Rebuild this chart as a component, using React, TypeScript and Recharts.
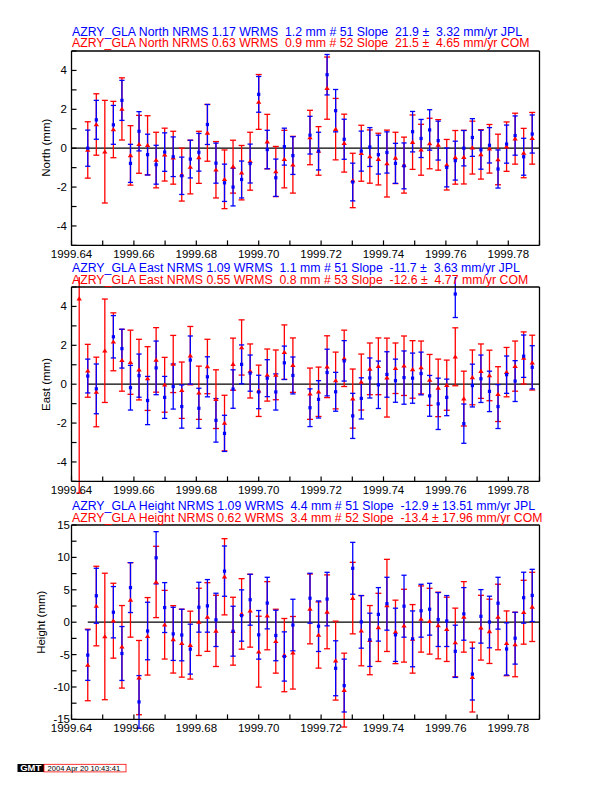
import React from 'react'
import { ComposedChart, Scatter, ErrorBar, XAxis, YAxis, ReferenceLine } from 'recharts'

// daily epochs (decimal year), day 235 .. 288 of 1999
const EPOCHS = [
  1999.64247, 1999.64521, 1999.64795, 1999.65068, 1999.65342, 1999.65616, 1999.6589, 1999.66164,
  1999.66438, 1999.66712, 1999.66986, 1999.6726, 1999.67534, 1999.67808, 1999.68082, 1999.68356,
  1999.6863, 1999.68904, 1999.69178, 1999.69452, 1999.69726, 1999.7, 1999.70274, 1999.70548,
  1999.70822, 1999.71096, 1999.7137, 1999.71644, 1999.71918, 1999.72192, 1999.72466, 1999.7274,
  1999.73014, 1999.73288, 1999.73562, 1999.73836, 1999.7411, 1999.74384, 1999.74658, 1999.74932,
  1999.75205, 1999.75479, 1999.75753, 1999.76027, 1999.76301, 1999.76575, 1999.76849, 1999.77123,
  1999.77397, 1999.77671, 1999.77945, 1999.78219, 1999.78493, 1999.78767,
]

const X_TICKS = [
  1999.64, 1999.65, 1999.66, 1999.67, 1999.68, 1999.69, 1999.7, 1999.71,
  1999.72, 1999.73, 1999.74, 1999.75, 1999.76, 1999.77, 1999.78, 1999.79,
]
const NE_TICKS = [-5, -4, -3, -2, -1, 0, 1, 2, 3, 4, 5]
const UP_TICKS = [-15, -12.5, -10, -7.5, -5, -2.5, 0, 2.5, 5, 7.5, 10, 12.5, 15]

// North
const NORTH_JPL = [
  null, 0.0, 1.46, null, 1.2, 2.46, -0.78, 0.87, -0.33, -0.85, -0.2, -0.44, -1.42, -0.56, -0.21, 1.22,
  -0.77, -1.78, -2.0, -1.61, -0.79, 2.77, -0.07, -1.52, 0.08, -0.38, null, 0.67, -0.15, 3.78, 1.93, 0.46,
  -1.74, -0.15, 0.06, -0.33, -0.22, -0.78, -0.91, 0.85, 0.5, 0.94, 0.39, -0.99, -0.64, 0.0, 0.55, -0.08,
  0.15, -1.07, 0.21, 0.65, -0.44, 0.73,
]
const NORTH_JPL_ERR = [
  null, 0.93, 1.0, null, 1.0, 1.03, 0.98, 1.01, 1.05, 1.0, 0.99, 1.02, 0.96, 0.97, 0.97, 1.03,
  1.03, 0.96, 0.97, 0.95, 1.0, 0.92, 0.99, 0.96, 0.95, 0.97, null, 0.97, 0.97, 1.04, 1.09, 1.03,
  0.97, 1.03, 1.0, 1.0, 1.06, 1.03, 1.18, 1.04, 0.98, 1.04, 1.0, 1.0, 1.0, 0.91, 0.97, 1.0,
  0.91, 0.98, 0.98, 1.01, 0.95, 0.98,
]
const NORTH_COM = [
  null, -0.09, 1.22, -0.18, 0.96, 2.02, -0.37, 0.2, 0.15, -0.61, -0.33, -0.49, -1.36, -0.97, -0.47, 0.79,
  -1.11, -1.6, -0.95, -1.26, -0.67, 2.38, 0.34, -1.2, -0.56, -0.85, null, 0.55, -0.14, 3.09, 0.98, 0.26,
  -1.66, -0.26, -0.43, -0.56, -0.79, -0.5, -0.87, 0.31, -0.08, 0.24, 0.17, -0.85, -0.47, -0.46, 0.03, -0.32,
  -0.03, -0.58, 0.08, 0.49, -0.25, 0.51,
]
const NORTH_COM_ERR = [
  null, 1.45, 1.58, 2.64, 1.45, 1.6, 1.53, 1.49, 1.52, 1.43, 1.36, 1.36, 1.36, 1.38, 1.34, 1.46,
  1.45, 1.51, 1.36, 1.4, 1.49, 1.41, 1.4, 1.29, 1.48, 1.46, null, 1.4, 1.25, 1.6, 1.58, 1.49,
  1.4, 1.44, 1.37, 1.33, 1.72, 1.32, 1.44, 1.4, 1.31, 1.3, 1.3, 1.3, 1.38, 1.38, 1.36, 1.27,
  1.25, 1.3, 1.27, 1.31, 1.27, 1.33,
]

// East
const EAST_JPL = [
  null, 0.42, -0.24, null, 2.44, 1.83, -0.18, 0.44, -0.84, 0.84, -0.68, -0.12, -1.15, 1.24, -1.24, 0.38,
  -1.86, -2.53, -0.25, 1.02, 0.57, -0.4, 0.31, -0.4, 1.1, 0.45, null, -1.21, -0.78, 0.6, -0.39, 1.2,
  -1.63, -0.73, 0.32, -0.03, 0.5, 0.18, 0.34, 0.31, 0.55, -0.6, -1.01, -0.68, 4.64, -2.03, -0.07, 0.28,
  -0.37, -1.15, 0.49, 0.16, 1.44, 0.87,
]
const EAST_JPL_ERR = [
  null, 0.87, 1.28, null, 1.09, 1.0, 1.15, 1.11, 1.24, 1.38, 1.08, 1.16, 1.11, 1.24, 1.03, 1.03,
  1.12, 0.93, 0.99, 1.0, 0.93, 0.86, 0.95, 0.93, 0.86, 0.95, null, 0.97, 0.96, 1.2, 1.0, 1.04,
  1.16, 1.06, 1.03, 1.22, 1.17, 1.11, 1.37, 1.29, 1.1, 1.05, 1.32, 0.94, 1.21, 1.01, 1.1, 1.22,
  1.04, 1.13, 0.96, 1.05, 1.09, 1.11,
]
const EAST_COM = [
  4.4, 0.69, -0.4, 1.72, 2.18, 1.23, 1.13, 0.75, 0.29, 1.25, -0.03, 1.04, -0.31, 1.47, -0.44, 0.91,
  -0.77, -2.0, 1.03, 1.89, 0.68, -0.34, 0.47, 0.48, 1.65, 0.98, null, -0.49, -0.39, 0.9, 0.19, 1.33,
  -0.74, 0.11, 0.79, 0.92, 0.34, 0.82, 0.95, 0.76, 0.86, 0.22, -0.19, -0.05, 1.41, -0.74, 0.35, 0.67,
  0.45, -0.51, 0.62, 0.93, 1.35, 1.11,
]
const EAST_COM_ERR = [
  10, 1.36, 1.79, 2.66, 1.49, 1.59, 1.65, 1.56, 1.64, 1.66, 1.41, 1.47, 1.45, 1.5, 1.37, 1.4,
  1.51, 1.43, 1.34, 1.42, 1.39, 1.32, 1.34, 1.28, 1.4, 1.4, null, 1.32, 1.27, 1.59, 1.46, 1.45,
  1.52, 1.44, 1.33, 1.46, 2.03, 1.3, 1.53, 1.48, 1.36, 1.31, 1.48, 1.29, 1.49, 1.41, 1.41, 1.4,
  1.3, 1.41, 1.27, 1.29, 1.34, 1.41,
]

// Height
const UP_JPL = [
  null, -5.08, 4.08, null, 1.54, -4.83, 5.34, -12.3, -1.36, 9.94, 2.26, -1.8, -1.98, -4.16, 2.31, 2.52,
  0.36, 7.88, -1.39, 1.03, 3.47, -1.95, 2.95, -2.05, -5.29, -0.44, null, 3.7, -0.62, 3.57, -7.11, -9.78,
  8.32, 0.05, -2.72, 1.21, 2.85, -1.95, 2.47, -2.57, 1.77, 2.0, 0.41, 0.18, -4.49, 1.28, -8.01, 0.9,
  0.03, 2.93, -4.13, -2.47, 3.78, 4.13,
]
const UP_JPL_ERR = [
  null, 3.9, 4.24, null, 3.96, 4.16, 3.85, 4.06, 4.44, 4.03, 3.85, 4.1, 3.98, 3.85, 3.85, 4.06,
  4.11, 3.88, 3.85, 3.96, 3.93, 3.75, 3.98, 3.9, 3.8, 3.98, null, 3.85, 3.9, 4.13, 4.24, 4.08,
  4.0, 4.06, 4.11, 4.13, 4.08, 4.11, 4.78, 4.31, 4.08, 4.0, 4.16, 3.93, 4.03, 4.06, 4.0, 4.13,
  3.98, 4.0, 4.03, 4.0, 3.93, 4.03,
]
const UP_COM = [
  null, -6.6, 2.49, -2.2, 0.23, -3.8, 3.44, -8.55, -2.18, 6.21, -0.39, -2.65, -3.24, -3.54, 0.05, 0.8,
  -1.34, 7.01, -1.39, 1.28, 1.77, -4.55, 1.0, -2.93, -5.08, -4.72, null, 2.05, -1.98, 1.6, -5.93, -10.48,
  3.72, -1.31, -2.77, -0.8, 2.59, -1.5, -0.54, -2.57, 0.49, 0.15, -0.51, -1.1, -3.13, 0.82, -8.47, -0.85,
  -1.41, 0.8, -3.26, -3.44, 1.54, 2.36,
]
const UP_COM_ERR = [
  null, 5.52, 6.14, 9.76, 5.78, 6.37, 5.75, 5.73, 5.98, 5.5, 5.3, 5.2, 5.24, 5.24, 5.19, 5.3,
  5.5, 5.88, 5.24, 5.44, 5.62, 5.47, 5.26, 4.93, 5.65, 5.6, null, 5.39, 5.11, 5.7, 6.09, 5.7,
  5.52, 5.42, 5.34, 5.26, 7.11, 4.9, 5.62, 5.29, 5.11, 5.08, 5.14, 4.96, 5.3, 5.44, 5.39, 5.0,
  4.96, 5.06, 5.0, 4.98, 4.93, 5.34,
]

const TITLES = [
  ['AZRY_GLA North NRMS 1.17 WRMS  1.2 mm # 51 Slope  21.9 \u00b1  3.32 mm/yr JPL',
    'AZRY_GLA North NRMS 0.63 WRMS  0.9 mm # 52 Slope  21.5 \u00b1  4.65 mm/yr COM'],
  ['AZRY_GLA East NRMS 1.09 WRMS  1.1 mm # 51 Slope  -11.7 \u00b1  3.63 mm/yr JPL',
    'AZRY_GLA East NRMS 0.55 WRMS  0.8 mm # 53 Slope  -12.6 \u00b1  4.77 mm/yr COM'],
  ['AZRY_GLA Height NRMS 1.09 WRMS  4.4 mm # 51 Slope  -12.9 \u00b1 13.51 mm/yr JPL',
    'AZRY_GLA Height NRMS 0.62 WRMS  3.4 mm # 52 Slope  -13.4 \u00b1 17.96 mm/yr COM'],
]

const BLUE = '#0000ff'
const RED = '#ff0000'
const FONT = '"Liberation Sans", Arial, Helvetica, sans-serif'
const X0 = 1999.64
const X1 = 1999.79
const LEFT = 71.5
const PLOT_W = 468
const PLOT_H = 194.4
const PAD_T = 10
const PAD_B = 22
const TICK = 5

function toPoints(vals: (number | null)[], errs: (number | null)[]) {
  const out: { t: number; v: number; e: number }[] = []
  vals.forEach((v, i) => {
    if (v !== null) out.push({ t: EPOCHS[i], v, e: errs[i] as number })
  })
  return out
}

const Square = (p: any) =>
  p.cx == null ? <g /> : <rect x={p.cx - 1.6} y={p.cy - 1.6} width={3.2} height={3.2} fill={BLUE} />

const Triangle = (p: any) =>
  p.cx == null ? (
    <g />
  ) : (
    <polygon
      points={`${p.cx - 2.7},${p.cy + 1.8} ${p.cx + 2.7},${p.cy + 1.8} ${p.cx},${p.cy - 2.3}`}
      fill={RED}
    />
  )

const BottomTick = (p: any) => {
  const v = p.payload.value
  const k = Math.round((v - X0) * 100)
  return (
    <g>
      <line x1={p.x} y1={p.y} x2={p.x} y2={p.y - TICK} stroke="#000" strokeWidth={1.2} />
      {k % 2 === 0 && (
        <text x={p.x} y={p.y + 12.5} textAnchor="middle" fontSize={11.5} fontFamily={FONT} fill="#000">
          {v.toFixed(2)}
        </text>
      )}
    </g>
  )
}

const TopTick = (p: any) => (
  <line x1={p.x} y1={p.y} x2={p.x} y2={p.y + TICK} stroke="#000" strokeWidth={1.2} />
)

const RightTick = (p: any) => (
  <line x1={p.x} y1={p.y} x2={p.x - TICK} y2={p.y} stroke="#000" strokeWidth={1.2} />
)

const makeLeftTick = (labelStep: number, gap: number) => (p: any) => {
  const v = p.payload.value
  const show = Math.abs(v % labelStep) < 1e-6 && (labelStep === 5 || Math.abs(v) < 5)
  return (
    <g>
      <line x1={p.x} y1={p.y} x2={p.x + TICK} y2={p.y} stroke="#000" strokeWidth={1.2} />
      {show && (
        <text
          x={p.x - gap}
          y={p.y + 4}
          textAnchor="end"
          fontSize={11.5}
          fontFamily={FONT}
          fill="#000"
        >
          {v}
        </text>
      )}
    </g>
  )
}

const PANELS = [
  {
    top: 50.5, label: 'North (mm)', labelX: 50, domain: [-5, 5], ticks: NE_TICKS, step: 2, gap: 4.5,
    zeroFrom: X0, jpl: toPoints(NORTH_JPL, NORTH_JPL_ERR), com: toPoints(NORTH_COM, NORTH_COM_ERR),
  },
  {
    top: 287.3, label: 'East (mm)', labelX: 50, domain: [-5, 5], ticks: NE_TICKS, step: 2, gap: 4.5,
    zeroFrom: EPOCHS[1], jpl: toPoints(EAST_JPL, EAST_JPL_ERR), com: toPoints(EAST_COM, EAST_COM_ERR),
  },
  {
    top: 525, label: 'Height (mm)', labelX: 45, domain: [-15, 15], ticks: UP_TICKS, step: 5, gap: 1.5,
    zeroFrom: EPOCHS[1], jpl: toPoints(UP_JPL, UP_JPL_ERR), com: toPoints(UP_COM, UP_COM_ERR),
  },
]

function Panel({ cfg }: { cfg: (typeof PANELS)[number] }) {
  const axisLine = { stroke: '#000', strokeWidth: 1.3 }
  return (
    <div style={{ position: 'absolute', left: 0, top: cfg.top - PAD_T }}>
      <ComposedChart
        width={612}
        height={PAD_T + PLOT_H + PAD_B}
        margin={{ top: 0, right: 0, bottom: 0, left: 0 }}
      >
        <XAxis
          type="number"
          dataKey="t"
          domain={[X0, X1]}
          ticks={X_TICKS}
          interval={0}
          allowDataOverflow
          height={PAD_B}
          tickSize={0}
          tickMargin={0}
          axisLine={axisLine}
          tickLine={false}
          tick={BottomTick}
        />
        <XAxis
          xAxisId="top"
          orientation="top"
          type="number"
          domain={[X0, X1]}
          ticks={X_TICKS}
          interval={0}
          height={PAD_T}
          tickSize={0}
          tickMargin={0}
          axisLine={axisLine}
          tickLine={false}
          tick={TopTick}
        />
        <YAxis
          type="number"
          dataKey="v"
          domain={cfg.domain}
          ticks={cfg.ticks}
          interval={0}
          allowDataOverflow
          width={LEFT}
          tickSize={0}
          tickMargin={0}
          axisLine={axisLine}
          tickLine={false}
          tick={makeLeftTick(cfg.step, cfg.gap)}
        />
        <YAxis
          yAxisId="right"
          orientation="right"
          type="number"
          domain={cfg.domain}
          ticks={cfg.ticks}
          interval={0}
          width={612 - LEFT - PLOT_W}
          tickSize={0}
          tickMargin={0}
          axisLine={axisLine}
          tickLine={false}
          tick={RightTick}
        />
        <ReferenceLine
          segment={[{ x: cfg.zeroFrom, y: 0 }, { x: X1, y: 0 }]}
          stroke="#000"
          strokeWidth={1.3}
        />
        <Scatter data={cfg.com} dataKey="v" shape={Triangle} isAnimationActive={false}>
          <ErrorBar dataKey="e" direction="y" width={3} stroke={RED} strokeWidth={1.3} isAnimationActive={false} />
        </Scatter>
        <Scatter data={cfg.jpl} dataKey="v" shape={Square} isAnimationActive={false}>
          <ErrorBar dataKey="e" direction="y" width={2.6} stroke={BLUE} strokeWidth={1.3} isAnimationActive={false} />
        </Scatter>
      </ComposedChart>
    </div>
  )
}

export default function App() {
  return (
    <div style={{ position: 'absolute', left: 0, top: 0, width: 612, height: 792, background: '#fff' }}>
      {PANELS.map((cfg, i) => (
        <Panel key={i} cfg={cfg} />
      ))}
      <svg
        width={612}
        height={792}
        style={{ position: 'absolute', left: 0, top: 0, pointerEvents: 'none' }}
        fontFamily={FONT}
      >
        {PANELS.map((cfg, i) => (
          <g key={i}>
            <text x={72} y={cfg.top - 15} fontSize={12.3} fill={BLUE} xmlSpace="preserve" style={{ whiteSpace: 'pre' }}>
              {TITLES[i][0]}
            </text>
            <text x={72} y={cfg.top - 3.5} fontSize={12.3} fill={RED} xmlSpace="preserve" style={{ whiteSpace: 'pre' }}>
              {TITLES[i][1]}
            </text>
            <text
              x={cfg.labelX}
              y={cfg.top + PLOT_H / 2}
              fontSize={11.5}
              textAnchor="middle"
              transform={`rotate(-90 ${cfg.labelX} ${cfg.top + PLOT_H / 2})`}
              fill="#000"
            >
              {cfg.label}
            </text>
          </g>
        ))}
        <rect x={17.5} y={764} width={26.5} height={8} fill="#000" />
        <text x={30.8} y={771.3} fontSize={9.5} fontWeight="bold" fill="#fff" textAnchor="middle">
          GMT
        </text>
        <rect x={44} y={764.3} width={82} height={7.6} fill="none" stroke={RED} strokeWidth={0.8} />
        <text x={47.5} y={770.8} fontSize={7.6} fill="#000">
          2004 Apr 20 10:43:41
        </text>
      </svg>
    </div>
  )
}
